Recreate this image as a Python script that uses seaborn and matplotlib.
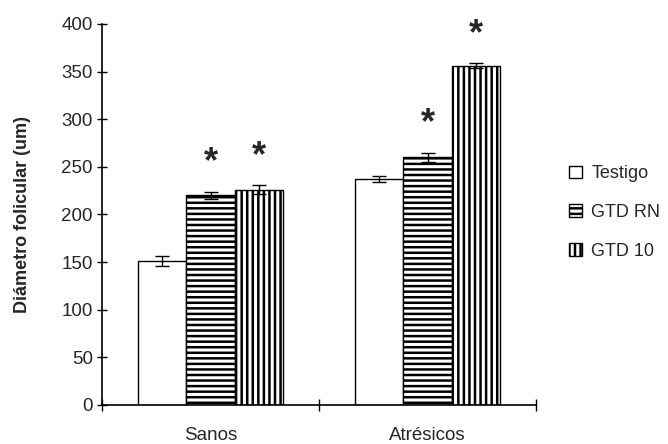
import pandas as pd
import matplotlib
matplotlib.use('Agg')
import matplotlib.pyplot as plt
import seaborn as sns
from matplotlib.patches import Patch

# data
groups = ['Sanos', 'Atrésicos']
treatments = ['Testigo', 'GTD RN', 'GTD 10']
means = {
    'Testigo': [151, 237],
    'GTD RN': [220, 260],
    'GTD 10': [226, 356],
}
errors = {
    'Testigo': [5, 3],
    'GTD RN': [4, 5],
    'GTD 10': [5, 2.5],
}
# which bars carry a significance star
stars = {
    'Testigo': [False, False],
    'GTD RN': [True, True],
    'GTD 10': [True, True],
}
hatches = {'Testigo': '', 'GTD RN': '---', 'GTD 10': '|||'}


def main():
    rows = []
    for t in treatments:
        for i, g in enumerate(groups):
            rows.append({'grupo': g, 'tratamiento': t,
                         'diametro': means[t][i], 'err': errors[t][i]})
    df = pd.DataFrame(rows)

    sns.set_style('white')
    plt.rcParams['font.family'] = ['Liberation Sans', 'DejaVu Sans']
    plt.rcParams['hatch.linewidth'] = 1.8

    fig = plt.figure(figsize=(6.68, 4.44), dpi=100)
    ax = fig.add_axes([0.1527, 0.088, 0.65, 0.858])

    width = 0.67
    sns.barplot(data=df, x='grupo', y='diametro', hue='tratamiento',
                order=groups, hue_order=treatments, width=width, gap=0,
                palette=['white'] * 3, edgecolor='black', linewidth=1.0,
                errorbar=None, legend=False, ax=ax)

    # hatch the bars, patches come ordered by hue then category
    bw = width / len(treatments)
    for k, t in enumerate(treatments):
        for i in range(len(groups)):
            p = ax.patches[k * len(groups) + i]
            p.set_hatch(hatches[t])
            x = i + (k - 1) * bw
            ax.errorbar(x, means[t][i], yerr=errors[t][i], color='black',
                        capsize=5, elinewidth=1.0, capthick=1.0, fmt='none')
            if stars[t][i]:
                ax.text(x, means[t][i] + errors[t][i] + 30, '*',
                        ha='center', va='center', fontsize=26,
                        fontweight='bold')

    ax.set_ylim(0, 400)
    ax.set_xlim(-0.5, 1.5)
    ax.set_yticks(range(0, 401, 50))
    ax.set_xticks([0, 1])
    ax.set_xticklabels(groups)
    ax.set_xticks([-0.5, 0.5, 1.5], minor=True)
    ax.tick_params(axis='x', which='major', bottom=False, length=0, pad=16,
                   labelsize=13.5)
    ax.tick_params(axis='x', which='minor', bottom=True, length=8,
                   direction='inout', width=1.0, color='black')
    ax.tick_params(axis='y', left=True, length=7, direction='inout', width=1.0,
                   color='black', labelsize=13.5, pad=3)
    ax.set_xlabel('')
    ax.set_ylabel('Diámetro folicular (um)', fontsize=13,
                  fontweight='bold', labelpad=22)
    sns.despine(ax=ax)
    for s in ['left', 'bottom']:
        ax.spines[s].set_color('black')
        ax.spines[s].set_linewidth(1.2)

    handles = [Patch(facecolor='white', edgecolor='black', hatch=hatches[t],
                     label=t) for t in treatments]
    ax.legend(handles=handles, loc='center left', bbox_to_anchor=(1.06, 0.505),
              frameon=False, fontsize=13, handlelength=0.7,
              handleheight=0.7, handletextpad=0.5, labelspacing=1.2,
              borderaxespad=0)

    fig.savefig('out.png', dpi=100)
    plt.close(fig)


if __name__ == '__main__':
    main()
